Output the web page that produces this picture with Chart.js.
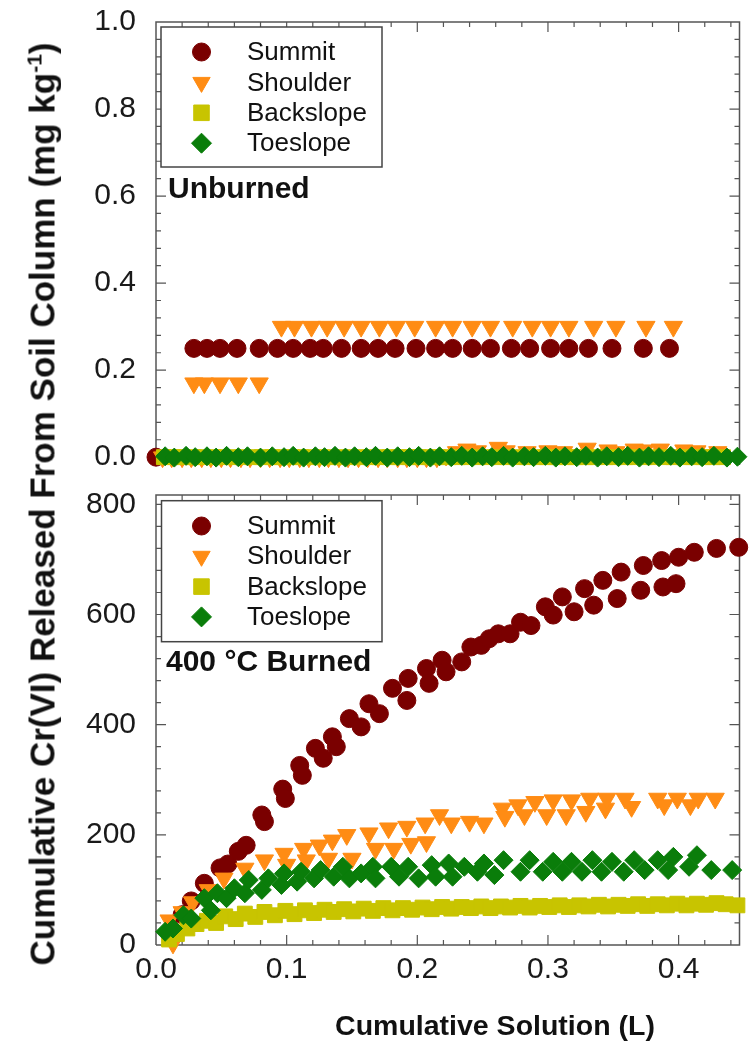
<!DOCTYPE html>
<html>
<head>
<meta charset="utf-8">
<script src="https://cdn.jsdelivr.net/npm/chart.js@4.4.1/dist/chart.umd.min.js"></script>
<style>
  html, body { margin: 0; padding: 0; background: #fff; }
  #wrap { position: relative; width: 751px; height: 1052px; overflow: hidden;
          font-family: "Liberation Sans", Arial, sans-serif; }
  canvas { position: absolute; left: 0; }
  #cTop { top: 0; }
  #cBot { top: 480px; }
  .ttl { position: absolute; white-space: nowrap; color: #111; font-weight: bold; line-height: 1; }
  .ttl sup { font-size: 60%; vertical-align: super; line-height: 0; }
  #ytitle { left: 42px; top: 504px; font-size: 35px; transform: translate(-50%, -50%) rotate(-90deg); }
  #xtitle { left: 495px; top: 1025px; font-size: 28.5px; transform: translate(-50%, -50%); }
</style>
</head>
<body>
<div id="wrap">
  <canvas id="cTop" width="751" height="480" style="width:751px;height:480px"></canvas>
  <canvas id="cBot" width="751" height="572" style="width:751px;height:572px"></canvas>
  <div class="ttl" id="ytitle">Cumulative Cr(VI) Released From Soil Column (mg kg<sup>-1</sup>)</div>
  <div class="ttl" id="xtitle">Cumulative Solution (L)</div>
</div>
<script>
// ---- axis ticks ----
const xTicks = [0, 0.1, 0.2, 0.3, 0.4];
const xTickLabels = ['0.0', '0.1', '0.2', '0.3', '0.4'];
const yTopTicks = [0, 0.2, 0.4, 0.6, 0.8, 1.0];
const yTopTickLabels = ['0.0', '0.2', '0.4', '0.6', '0.8', '1.0'];
const yBotTicks = [0, 200, 400, 600, 800];
const yBotTickLabels = ['0', '200', '400', '600', '800'];

const seriesNames = ['Summit', 'Shoulder', 'Backslope', 'Toeslope'];
const panelLabels = ['Unburned', '400 \u00B0C Burned'];

// ---- Unburned panel (mg/kg) ----
const topSummitX = [0.000, 0.029, 0.039, 0.049, 0.062, 0.079, 0.093, 0.105, 0.118, 0.128, 0.142, 0.157, 0.170, 0.183,
  0.199, 0.214, 0.227, 0.242, 0.256, 0.272, 0.286, 0.302, 0.316, 0.331, 0.349, 0.373, 0.393];
const topSummitY = [0.00, 0.25, 0.25, 0.25, 0.25, 0.25, 0.25, 0.25, 0.25, 0.25, 0.25, 0.25, 0.25, 0.25,
  0.25, 0.25, 0.25, 0.25, 0.25, 0.25, 0.25, 0.25, 0.25, 0.25, 0.25, 0.25, 0.25];

const topShoulderX = [0.029, 0.037, 0.049, 0.063, 0.079,
  0.096, 0.106, 0.119, 0.131, 0.144, 0.157, 0.171, 0.184, 0.198, 0.214, 0.227, 0.242, 0.256, 0.273, 0.288,
  0.302, 0.316, 0.335, 0.352, 0.375, 0.396,
  0.005, 0.012, 0.020, 0.027, 0.035, 0.042, 0.050, 0.057, 0.065, 0.072, 0.080, 0.087, 0.095, 0.102, 0.110,
  0.117, 0.125, 0.132, 0.140, 0.147, 0.155, 0.162, 0.170, 0.177, 0.185, 0.192, 0.200, 0.207, 0.215, 0.222,
  0.230, 0.238, 0.246, 0.262, 0.268, 0.284, 0.300, 0.312, 0.330, 0.346, 0.352, 0.366, 0.374, 0.386, 0.404,
  0.414, 0.430];
const topShoulderY = [0.17, 0.17, 0.17, 0.17, 0.17,
  0.30, 0.30, 0.30, 0.30, 0.30, 0.30, 0.30, 0.30, 0.30, 0.30, 0.30, 0.30, 0.30, 0.30, 0.30,
  0.30, 0.30, 0.30, 0.30, 0.30, 0.30,
  0.000, 0.000, 0.000, 0.000, 0.000, 0.000, 0.000, 0.000, 0.000, 0.000, 0.000, 0.000, 0.000, 0.000, 0.000,
  0.000, 0.000, 0.000, 0.000, 0.000, 0.000, 0.000, 0.000, 0.000, 0.000, 0.000, 0.000, 0.000, 0.000, 0.004,
  0.012, 0.018, 0.014, 0.022, 0.014, 0.012, 0.014, 0.012, 0.020, 0.016, 0.012, 0.018, 0.016, 0.018, 0.016,
  0.014, 0.012];

const topBackslopeX = [0.006, 0.014, 0.021, 0.029, 0.036, 0.044, 0.051, 0.059, 0.066, 0.074, 0.081, 0.089,
  0.096, 0.104, 0.111, 0.119, 0.126, 0.134, 0.141, 0.149, 0.156, 0.164, 0.171, 0.179, 0.186, 0.194, 0.201,
  0.209, 0.216, 0.224, 0.231, 0.239, 0.246, 0.254, 0.261, 0.269, 0.276, 0.284, 0.291, 0.299, 0.306, 0.314,
  0.321, 0.329, 0.336, 0.344, 0.351, 0.359, 0.366, 0.374, 0.381, 0.389, 0.396, 0.404, 0.411, 0.419, 0.426, 0.434];
const topBackslopeY = [0, 0, 0, 0, 0, 0, 0, 0, 0, 0, 0, 0,
  0, 0, 0, 0, 0, 0, 0, 0, 0, 0, 0, 0, 0, 0, 0,
  0, 0, 0, 0, 0, 0, 0, 0, 0, 0, 0, 0, 0, 0, 0,
  0, 0, 0, 0, 0, 0, 0, 0, 0, 0, 0, 0, 0, 0, 0, 0];

const topToeslopeX = [0.007, 0.014, 0.023, 0.030, 0.039, 0.046, 0.054, 0.063, 0.070, 0.080, 0.089, 0.098,
  0.105, 0.113, 0.122, 0.129, 0.137, 0.145, 0.152, 0.161, 0.168, 0.177, 0.185, 0.194, 0.201, 0.210, 0.217,
  0.226, 0.234, 0.242, 0.250, 0.257, 0.266, 0.273, 0.282, 0.289, 0.298, 0.306, 0.313, 0.322, 0.329, 0.338,
  0.345, 0.354, 0.361, 0.370, 0.377, 0.385, 0.394, 0.401, 0.410, 0.418, 0.427, 0.437, 0.445];
const topToeslopeY = [0.002, -0.001, 0.003, 0.000, 0.002, -0.001, 0.003, 0.000, 0.002, -0.001, 0.002, 0.000,
  0.003, -0.001, 0.002, 0.000, 0.003, -0.001, 0.002, 0.000, 0.003, -0.001, 0.002, 0.000, 0.003, -0.001, 0.002,
  0.000, 0.003, -0.001, 0.002, 0.000, 0.003, -0.001, 0.002, 0.000, 0.003, -0.001, 0.002, 0.000, 0.003, -0.001,
  0.002, 0.000, 0.003, -0.001, 0.002, 0.000, 0.003, -0.001, 0.002, 0.000, 0.003, -0.001, 0.001];

// ---- 400 °C burned panel (mg/kg) ----
const botSummitX = [0.011, 0.020, 0.027, 0.037, 0.049, 0.055, 0.063, 0.069, 0.081, 0.083,
  0.097, 0.099, 0.110, 0.112, 0.122, 0.128, 0.135, 0.138, 0.148, 0.157,
  0.163, 0.171, 0.181, 0.192, 0.193, 0.207, 0.209, 0.219, 0.222, 0.234,
  0.241, 0.249, 0.255, 0.262, 0.271, 0.279, 0.287, 0.298, 0.304, 0.311,
  0.320, 0.328, 0.335, 0.342, 0.353, 0.356, 0.371, 0.373, 0.387, 0.388,
  0.398, 0.400, 0.412, 0.429, 0.446];
const botSummitY = [25, 55, 80, 112, 140, 147, 170, 181, 236, 224,
  283, 266, 326, 308, 357, 339, 378, 360, 411, 396,
  438, 420, 466, 444, 484, 502, 475, 517, 496, 514,
  541, 544, 556, 565, 565, 586, 580, 614, 599, 632,
  605, 647, 617, 662, 629, 677, 644, 689, 698, 650,
  656, 704, 713, 720, 722];

const botShoulderX = [0.010, 0.013, 0.020, 0.028, 0.040, 0.052, 0.068, 0.083, 0.098, 0.100,
  0.113, 0.115, 0.125, 0.132, 0.135, 0.146, 0.150, 0.163, 0.168, 0.178,
  0.182, 0.192, 0.195, 0.206, 0.207, 0.217, 0.226, 0.240, 0.251, 0.265,
  0.267, 0.277, 0.282, 0.290, 0.299, 0.304, 0.314, 0.318, 0.329, 0.332,
  0.344, 0.345, 0.359, 0.364, 0.384, 0.389, 0.399, 0.409, 0.415, 0.428];
const botShoulderY = [45, 3, 60, 78, 100, 121, 139, 154, 166, 146,
  175, 154, 181, 157, 190, 200, 157, 203, 175, 212,
  175, 215, 184, 221, 187, 236, 221, 224, 221, 248,
  233, 254, 236, 260, 236, 263, 236, 263, 242, 266,
  248, 266, 266, 251, 266, 254, 266, 254, 266, 266];

const botBackslopeX = [0.010, 0.016, 0.024, 0.031, 0.039, 0.046, 0.053, 0.061, 0.068, 0.076,
  0.083, 0.091, 0.099, 0.106, 0.114, 0.121, 0.129, 0.136, 0.144, 0.151,
  0.159, 0.166, 0.174, 0.181, 0.189, 0.196, 0.204, 0.211, 0.219, 0.226,
  0.234, 0.241, 0.249, 0.256, 0.264, 0.271, 0.279, 0.286, 0.294, 0.301,
  0.309, 0.316, 0.324, 0.331, 0.339, 0.346, 0.354, 0.361, 0.369, 0.376,
  0.384, 0.391, 0.399, 0.406, 0.414, 0.421, 0.429, 0.436, 0.445];
const botBackslopeY = [10, 20, 30, 38, 44, 40, 52, 47, 57, 51,
  60, 54, 62, 56, 63, 58, 64, 60, 65, 61,
  66, 62, 67, 63, 67, 64, 68, 65, 69, 66,
  69, 67, 70, 67, 70, 68, 71, 68, 71, 69,
  72, 69, 72, 70, 73, 70, 73, 71, 74, 71,
  74, 72, 75, 72, 75, 73, 76, 74, 72];

const botToeslopeX = [0.007, 0.013, 0.021, 0.027, 0.037, 0.042, 0.047, 0.054, 0.060, 0.068,
  0.071, 0.081, 0.086, 0.096, 0.098, 0.108, 0.111, 0.121, 0.126, 0.136,
  0.143, 0.148, 0.157, 0.166, 0.168, 0.180, 0.186, 0.193, 0.201, 0.211, 0.214,
  0.224, 0.227, 0.236, 0.246, 0.251, 0.259, 0.266, 0.279, 0.286, 0.296,
  0.304, 0.311, 0.318, 0.326, 0.334, 0.341, 0.349, 0.358, 0.366, 0.374,
  0.384, 0.392, 0.396, 0.408, 0.414, 0.425, 0.441];
const botToeslopeY = [24, 30, 54, 48, 85, 63, 94, 85, 103, 94,
  118, 100, 121, 109, 130, 115, 133, 121, 136, 124,
  142, 121, 130, 142, 121, 142, 124, 142, 121, 145, 124,
  148, 124, 142, 133, 148, 127, 154, 133, 154, 133,
  151, 133, 151, 133, 154, 133, 151, 133, 154, 136,
  154, 136, 160, 142, 163, 136, 136];

// ---- styling ----
const FONT = '"Liberation Sans", Arial, sans-serif';
const styles = [
  { color: '#7a0000', pointStyle: 'circle', radius: 9, legendRadius: 9, rotation: 0 },
  { color: '#ff8c14', pointStyle: 'triangle', radius: 10.5, legendRadius: 10, rotation: 180 },
  { color: '#c8c400', pointStyle: 'rect', radius: 10.5, legendRadius: 11, rotation: 0 },
  { color: '#0a7d0a', pointStyle: 'rectRot', radius: 9.5, legendRadius: 10, rotation: 0 }
];

function pts(xs, ys) { return xs.map((x, i) => ({ x: x, y: ys[i] })); }

function makeDatasets(groups) {
  return groups.map((g, i) => ({
    label: seriesNames[i],
    data: pts(g[0], g[1]),
    showLine: false,
    pointStyle: styles[i].pointStyle,
    pointRotation: styles[i].rotation,
    pointRadius: styles[i].radius,
    pointBackgroundColor: styles[i].color,
    pointBorderColor: styles[i].color,
    pointBorderWidth: 1,
    backgroundColor: styles[i].color,
    borderColor: styles[i].color,
    order: 3 - i,
    clip: false
  }));
}

function symbol(ctx, st, x, y, r) {
  ctx.fillStyle = st.color;
  ctx.strokeStyle = st.color;
  ctx.lineWidth = 1;
  if (window.Chart && Chart.helpers && Chart.helpers.drawPoint) {
    Chart.helpers.drawPoint(ctx, { pointStyle: st.pointStyle, radius: r, rotation: st.rotation, borderWidth: 1 }, x, y);
  }
}

// frame with inward major/minor ticks on every drawn side
const framePlugin = {
  id: 'frame',
  beforeDatasetsDraw(chart, args, o) {
    const { ctx, chartArea: a, scales } = chart;
    const xs = scales.x, ys = scales.y;
    ctx.save();
    ctx.strokeStyle = '#555';
    ctx.lineWidth = 1.5;
    ctx.beginPath();
    ctx.moveTo(a.left, a.bottom);
    ctx.lineTo(a.left, a.top);
    ctx.lineTo(a.right, a.top);
    ctx.lineTo(a.right, a.bottom);
    if (o.bottom) ctx.lineTo(a.left, a.bottom);
    ctx.stroke();
    ctx.lineWidth = 1.2;
    ctx.beginPath();
    for (let k = 1; k * o.xMinor <= xs.max + 1e-9; k++) {
      const p = xs.getPixelForValue(k * o.xMinor);
      if (p >= a.right - 1) break;
      const len = (k % o.xPer === 0) ? 10 : 5;
      ctx.moveTo(p, a.top); ctx.lineTo(p, a.top + len);
      if (o.bottom) { ctx.moveTo(p, a.bottom); ctx.lineTo(p, a.bottom - len); }
    }
    for (let k = 1; k * o.yMinor <= ys.max + 1e-9; k++) {
      const p = ys.getPixelForValue(k * o.yMinor);
      if (p <= a.top + 1) break;
      const len = (k % o.yPer === 0) ? 10 : 5;
      ctx.moveTo(a.left, p); ctx.lineTo(a.left + len, p);
      ctx.moveTo(a.right, p); ctx.lineTo(a.right - len, p);
    }
    ctx.stroke();
    ctx.restore();
  }
};

// boxed legend and panel caption
const legendPlugin = {
  id: 'boxLegend',
  afterDatasetsDraw(chart, args, o) {
    const ctx = chart.ctx;
    ctx.save();
    ctx.fillStyle = '#fff';
    ctx.fillRect(o.x, o.y, o.w, o.h);
    ctx.strokeStyle = '#444';
    ctx.lineWidth = 1.5;
    ctx.strokeRect(o.x, o.y, o.w, o.h);
    seriesNames.forEach((name, i) => {
      const cy = o.y + o.first + i * o.step;
      symbol(ctx, styles[i], o.symX, cy, styles[i].legendRadius);
      ctx.fillStyle = '#111';
      ctx.font = '26px ' + FONT;
      ctx.textAlign = 'left';
      ctx.textBaseline = 'middle';
      ctx.fillText(name, o.textX, cy + 1);
    });
    ctx.fillStyle = '#111';
    ctx.font = 'bold 30px ' + FONT;
    ctx.textBaseline = 'middle';
    ctx.fillText(o.caption, o.capX, o.capY);
    ctx.restore();
  }
};

function tickSetter(values) {
  return function (scale) { scale.ticks = values.map(v => ({ value: v })); };
}

function makeChart(id, groups, cfg) {
  return new Chart(document.getElementById(id), {
    type: 'scatter',
    data: { datasets: makeDatasets(groups) },
    plugins: [framePlugin, legendPlugin],
    options: {
      responsive: false,
      animation: false,
      events: [],
      layout: { padding: { left: 0, right: 1, top: cfg.padTop, bottom: cfg.padBottom } },
      scales: {
        x: {
          type: 'linear',
          min: 0,
          max: 0.4466,
          display: cfg.showX,
          afterBuildTicks: tickSetter(xTicks),
          afterFit: function (s) { s.height = cfg.xHeight; s.paddingLeft = 0; s.paddingRight = 0; },
          grid: { display: false, drawTicks: false },
          border: { display: false },
          ticks: {
            padding: 7,
            color: '#1a1a1a',
            font: { family: FONT, size: 30 },
            maxRotation: 0,
            autoSkip: false,
            callback: (v, i) => xTickLabels[i]
          }
        },
        y: {
          type: 'linear',
          min: cfg.yMin,
          max: cfg.yMax,
          afterBuildTicks: tickSetter(cfg.yTicks),
          afterFit: function (s) { s.width = 156; s.paddingTop = 0; s.paddingBottom = 0; },
          grid: { display: false, drawTicks: false },
          border: { display: false },
          ticks: {
            padding: 20,
            color: '#1a1a1a',
            font: { family: FONT, size: 30 },
            autoSkip: false,
            callback: (v, i) => cfg.yLabels[i]
          }
        }
      },
      plugins: {
        legend: { display: false },
        tooltip: { enabled: false },
        frame: cfg.frame,
        boxLegend: cfg.legend
      }
    }
  });
}

makeChart('cTop', [
  [topSummitX, topSummitY],
  [topShoulderX, topShoulderY],
  [topBackslopeX, topBackslopeY],
  [topToeslopeX, topToeslopeY]
], {
  padTop: 22, padBottom: 15, showX: false, xHeight: 0,
  yMin: -0.018, yMax: 1.0, yTicks: yTopTicks, yLabels: yTopTickLabels,
  frame: { bottom: false, xMinor: 0.02, xPer: 5, yMinor: 0.04, yPer: 5 },
  legend: { x: 161, y: 27, w: 221, h: 140, first: 25, step: 30.4, symX: 201.5, textX: 247,
            caption: panelLabels[0], capX: 168, capY: 190 }
});

makeChart('cBot', [
  [botSummitX, botSummitY],
  [botShoulderX, botShoulderY],
  [botBackslopeX, botBackslopeY],
  [botToeslopeX, botToeslopeY]
], {
  padTop: 15, padBottom: 0, showX: true, xHeight: 107,
  yMin: 0, yMax: 817, yTicks: yBotTicks, yLabels: yBotTickLabels,
  frame: { bottom: true, xMinor: 0.02, xPer: 5, yMinor: 40, yPer: 5 },
  legend: { x: 161.5, y: 20.7, w: 220.5, h: 141, first: 25.3, step: 30.3, symX: 201.5, textX: 247,
            caption: panelLabels[1], capX: 166, capY: 183 }
});
</script>
</body>
</html>
